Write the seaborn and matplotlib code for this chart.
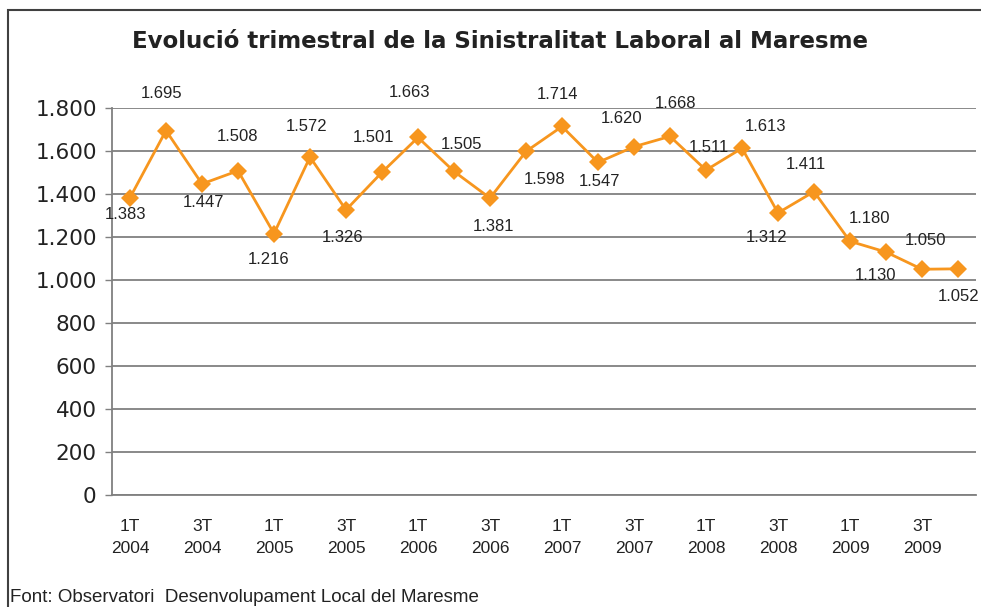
import pandas as pd
import seaborn as sns
import matplotlib.pyplot as plt
from matplotlib.patches import Rectangle

quarters = ["1T", "2T", "3T", "4T"]
years = ["2004", "2005", "2006", "2007", "2008", "2009"]
accidents = [1383, 1695, 1447, 1508, 1216, 1572, 1326, 1501,
             1663, 1505, 1381, 1598, 1714, 1547, 1620, 1668,
             1511, 1613, 1312, 1411, 1180, 1130, 1050, 1052]

# label offsets in pixels (dx, dy) relative to each marker
label_offsets = [(-5, -17), (-4, 37), (1, -19), (0, 34), (-5, -26), (-3, 31),
                 (-3, -28), (-9, 35), (-9, 45), (7, 27), (3, -28), (19, -28),
                 (-5, 32), (1, -19), (-12, 28), (5, 33), (3, 23), (24, 22),
                 (-11, -25), (-8, 27), (19, 23), (-11, -23), (3, 29), (1, -28)]

labels = [f"{q}\n{y}" for y in years for q in quarters]
df = pd.DataFrame({"pos": range(len(accidents)), "valor": accidents})

def dot_thousands(v):
    return f"{int(v):,}".replace(",", ".")

sns.set_style("white")
fig = plt.figure(figsize=(9.81, 6.07), dpi=100)
ax = fig.add_axes([112 / 981, 1 - 495 / 607, 864 / 981, 387 / 607])

orange = "#F7961E"
sns.lineplot(data=df, x="pos", y="valor", ax=ax, color=orange, marker="D",
             markersize=9, markeredgewidth=0, linewidth=2)

for i, v in enumerate(accidents):
    dx, dy = label_offsets[i]
    ax.annotate(dot_thousands(v), (i, v), xytext=(dx, dy), textcoords="offset pixels",
                ha="center", va="center", fontsize=12, family="Liberation Sans",
                color="#222222")

ax.set_xlim(-0.5, len(accidents) - 0.5)
ax.set_ylim(0, 1800)
ax.set_yticks(range(0, 1801, 200))
ax.set_yticklabels([dot_thousands(t) for t in range(0, 1801, 200)], fontsize=15.5,
                   family="DejaVu Sans", color="#222222")
ax.set_xticks(range(0, len(accidents), 2))
ax.set_xticklabels(labels[::2], fontsize=12.5, family="Liberation Sans",
                   color="#222222", linespacing=1.6)
ax.set_xticks([i - 0.5 for i in range(len(accidents) + 1)], minor=True)
ax.tick_params(axis="x", which="major", length=0, pad=17)
ax.tick_params(axis="x", which="minor", length=5, width=1, color="#808080", direction="out")
ax.tick_params(axis="y", length=5, width=1, color="#808080", direction="out", left=True, pad=6)

ax.grid(axis="y", color="#808080", linewidth=1.3)
ax.set_axisbelow(True)
for s in ["top", "right"]:
    ax.spines[s].set_visible(False)
for s in ["left", "bottom"]:
    ax.spines[s].set_color("#808080")
    ax.spines[s].set_linewidth(1.3)
ax.set_xlabel("")
ax.set_ylabel("")

fig.text(500 / 981, 1 - 42 / 607, "Evolució trimestral de la Sinistralitat Laboral al Maresme",
         ha="center", va="center", fontsize=16.5, fontweight="bold", family="DejaVu Sans",
         color="#222222")
fig.text(10 / 981, 1 - 597 / 607, "Font: Observatori  Desenvolupament Local del Maresme",
         ha="left", va="center", fontsize=13.5, family="Liberation Sans", color="#222222")

fig.patches.append(Rectangle((8 / 981, -0.1), 1.2, 1.1 - 10 / 607, transform=fig.transFigure,
                             fill=False, edgecolor="#404040", linewidth=1.5))

fig.savefig("out.png", dpi=100)
